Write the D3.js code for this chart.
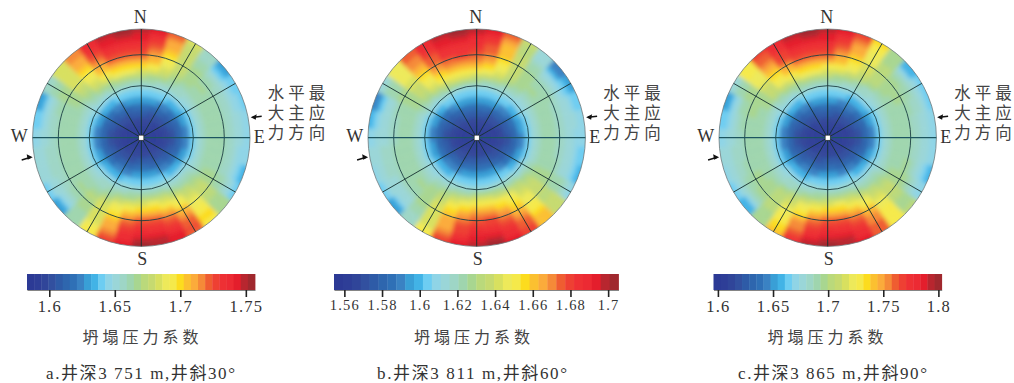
<!DOCTYPE html>
<html>
<head>
<meta charset="utf-8">
<script src="https://cdn.jsdelivr.net/npm/d3@7"></script>
<style>
  html, body { margin: 0; padding: 0; background: #fff; }
  text { font-family: "Liberation Serif", "Noto Sans CJK SC", serif; fill: #333; }
</style>
</head>
<body>
<div id="chart"></div>
<script>
const compass = ["N", "E", "S", "W"];
const stressNote = [["水", "平", "最"], ["大", "主", "应"], ["力", "方", "向"]];
const axisTitle = "坍塌压力系数";
const captions = ["a.井深3 751 m,井斜30°", "b.井深3 811 m,井斜60°", "c.井深3 865 m,井斜90°"];

const domainA = [1.583, 1.757];
const domainB = [1.5545, 1.7055];
const domainC = [1.596, 1.803];
const ticksA = [1.6, 1.65, 1.7, 1.75];
const ticksB = [1.56, 1.58, 1.6, 1.62, 1.64, 1.66, 1.68, 1.7];
const ticksC = [1.6, 1.65, 1.7, 1.75, 1.8];

const inclinationEdges = [0, 4, 8, 12, 16, 20, 24, 28, 32, 37, 42, 47, 52, 57, 62, 67, 72, 77, 82, 86, 90];
const azimuthStep = 10;

// colour bar steps, low to high
const palette = ["#2c3a95", "#2e3e97", "#304599", "#32509f", "#2e5ba7", "#2e66ae", "#2f70b6", "#3a82c3",
  "#399fd6", "#42b3e6", "#6dcdf2", "#8fd4e6", "#9ad6d8", "#9ed6c6", "#9fd5ae", "#a8d690",
  "#bad97b", "#c6da70", "#d8e05f", "#ede95a", "#f5e94a", "#fcdc1e", "#fbc030", "#fbab3b",
  "#f58a38", "#ef5d31", "#ee4033", "#ee3034", "#ec2a33", "#e41e2c", "#b8262f", "#a0282e"];

// each cell: colour bar step.
// rows go from the centre to the rim, columns clockwise from N every 10 degrees
const gridA = [
  [0,0,0,0,0,0,0,0,0,0,0,0,0,0,0,0,0,0,0,0,0,0,0,0,0,0,0,0,0,0,0,0,0,0,0,0],
  [1,1,1,1,1,1,1,1,0,0,0,1,1,1,1,1,1,1,1,1,1,1,1,1,1,1,0,0,0,1,1,1,1,1,1,1],
  [2,2,2,2,2,1,1,1,1,1,1,1,1,2,2,2,2,2,2,2,2,2,2,2,1,1,1,1,1,1,1,1,2,2,2,2],
  [4,4,3,3,3,3,3,2,2,2,2,2,3,3,3,3,4,4,4,4,3,3,3,3,3,2,2,2,2,2,3,3,3,3,4,4],
  [6,6,5,5,5,4,4,4,3,3,3,4,4,4,5,5,5,6,6,6,5,5,5,4,4,4,3,3,3,4,4,4,5,5,5,6],
  [8,8,8,7,7,6,6,5,5,5,5,5,6,6,7,7,8,8,8,8,7,7,7,6,6,5,5,5,5,5,6,6,7,7,8,8],
  [10,10,10,10,9,9,8,8,7,7,7,8,8,9,9,10,10,10,10,10,10,9,9,9,8,8,7,7,7,8,8,9,9,10,10,10],
  [12,12,12,11,11,11,10,10,10,10,10,10,11,11,11,12,12,12,12,12,12,11,11,11,10,10,10,10,10,10,11,11,11,12,12,12],
  [14,14,13,13,13,12,12,12,12,12,12,12,12,13,13,13,14,14,14,14,13,13,13,12,12,12,12,12,12,12,12,13,13,14,14,14],
  [16,15,15,14,13,13,13,13,13,13,13,13,13,14,14,15,16,16,16,15,15,14,13,13,13,13,13,13,13,13,13,14,15,15,16,16],
  [18,18,17,15,14,14,14,14,14,14,14,14,14,15,16,17,18,19,18,18,17,15,14,14,14,14,14,14,14,14,14,15,17,18,19,19],
  [21,20,18,16,15,14,14,14,14,14,14,14,15,16,17,19,20,21,21,20,19,17,15,14,14,14,14,14,14,14,15,16,18,20,21,21],
  [23,22,19,17,15,15,14,14,14,14,14,14,15,17,18,20,22,23,23,22,20,18,16,15,14,14,14,14,14,14,15,17,19,22,23,23],
  [25,23,20,17,15,14,14,14,14,14,14,14,15,17,19,22,24,25,25,24,21,18,15,14,14,14,14,14,14,14,15,18,20,23,25,25],
  [26,24,21,17,15,14,13,13,13,13,13,13,14,16,19,23,25,26,26,25,22,18,15,14,13,13,13,13,13,14,15,18,21,24,26,26],
  [27,25,22,17,14,13,13,13,13,13,13,13,14,16,20,24,26,27,27,26,23,18,15,13,13,13,13,13,13,13,15,18,22,25,27,27],
  [28,26,23,17,14,12,12,12,12,12,12,12,13,15,20,25,27,28,28,27,23,18,14,12,12,13,13,12,12,12,14,18,23,26,28,28],
  [29,27,23,17,13,10,11,11,12,12,11,11,12,15,21,25,28,29,29,28,24,19,14,11,12,12,12,12,11,11,14,18,23,27,29,29],
  [29,28,24,17,13,9,10,11,11,11,11,10,11,15,21,26,29,30,30,28,25,20,14,9,11,12,12,11,10,9,13,18,24,28,29,30],
  [30,29,25,18,13,8,10,10,11,11,11,9,10,15,20,25,29,30,31,29,26,20,14,8,10,12,12,11,10,8,13,18,24,28,30,31]
];
const gridB = [
  [0,0,0,0,0,0,0,0,0,0,0,0,0,0,0,0,0,0,0,0,0,0,0,0,0,0,0,0,0,0,0,0,0,0,0,0],
  [1,1,1,1,1,1,1,1,1,0,0,1,1,1,1,1,1,1,1,1,1,1,1,1,1,1,1,0,0,1,1,1,1,1,1,1],
  [2,2,2,2,2,2,1,1,1,1,1,1,2,2,2,2,2,2,2,2,2,2,2,2,1,1,1,1,1,1,1,2,2,2,2,2],
  [4,4,4,3,3,3,3,2,2,2,2,2,3,3,3,4,4,4,4,4,4,3,3,3,3,2,2,2,2,2,3,3,3,4,4,4],
  [6,6,6,5,5,5,4,4,4,3,3,4,4,4,5,5,6,6,6,6,6,5,5,5,4,4,4,3,3,4,4,4,5,5,6,6],
  [8,8,8,8,7,7,6,6,5,5,5,5,6,6,7,8,8,8,8,8,8,7,7,7,6,6,5,5,5,5,6,6,7,8,8,8],
  [10,10,10,10,10,9,9,8,8,7,7,8,8,9,10,10,10,10,10,10,10,10,9,9,9,8,8,7,7,8,8,9,10,10,10,10],
  [12,12,12,12,11,11,11,10,10,10,10,10,11,11,12,12,12,12,12,12,12,12,11,11,11,10,10,10,10,10,11,11,12,12,12,12],
  [15,14,14,13,13,12,12,12,12,12,12,12,13,13,14,14,15,15,15,14,14,13,13,12,12,12,12,12,12,12,13,13,14,15,15,15],
  [17,17,16,15,14,13,13,13,13,13,13,13,14,15,16,17,17,18,18,17,16,15,14,13,13,13,13,13,13,13,14,15,16,17,18,18],
  [20,19,18,16,15,14,14,14,14,14,14,14,15,16,17,19,20,20,20,19,18,16,15,14,14,14,14,14,14,14,15,16,18,20,20,20],
  [22,21,19,17,15,15,14,14,14,14,14,14,15,17,18,20,21,22,22,21,20,17,15,15,14,14,14,14,14,14,15,17,19,21,22,22],
  [24,23,20,17,15,14,14,14,14,14,14,14,15,17,19,21,23,24,24,23,21,18,15,14,14,14,14,14,14,14,15,17,20,23,24,24],
  [25,24,21,17,15,14,14,13,13,13,13,14,15,17,19,22,24,26,25,24,22,18,15,14,14,14,14,13,13,14,15,18,21,24,25,26],
  [26,25,22,17,14,13,13,13,13,13,13,13,14,16,20,23,25,26,26,25,23,18,15,13,13,13,13,13,13,13,15,18,22,25,27,27],
  [27,25,22,17,14,12,12,12,12,12,12,12,14,16,20,24,26,27,27,26,23,18,14,12,12,13,13,12,12,12,14,19,23,25,27,27],
  [28,26,22,16,13,11,11,12,12,12,12,12,14,17,21,25,27,28,28,26,23,18,14,12,12,13,13,12,12,12,14,19,24,26,28,28],
  [28,27,23,16,12,9,10,11,12,11,11,11,13,17,22,25,28,29,29,27,24,18,13,11,12,12,12,12,11,10,14,19,24,27,29,29],
  [29,28,24,16,12,7,9,10,11,11,10,10,12,17,22,26,28,30,29,28,25,19,13,9,11,12,12,11,10,8,13,19,25,28,29,30],
  [30,29,25,17,12,7,8,10,11,11,10,9,11,17,22,26,29,31,30,29,26,20,13,8,10,11,12,11,9,7,12,19,25,28,30,31]
];
const gridC = [
  [0,0,0,0,0,0,0,0,0,0,0,0,0,0,0,0,0,0,0,0,0,0,0,0,0,0,0,0,0,0,0,0,0,0,0,0],
  [1,1,1,1,1,1,1,1,1,1,0,1,1,1,1,1,1,1,1,1,1,1,1,1,1,1,1,1,0,1,1,1,1,1,1,1],
  [2,2,2,2,2,1,1,1,1,1,1,1,1,2,2,2,2,2,2,2,2,2,2,1,1,1,1,1,1,1,1,1,2,2,2,2],
  [4,4,3,3,3,3,3,2,2,2,2,2,3,3,3,3,4,4,4,4,3,3,3,3,3,2,2,2,2,2,3,3,3,3,4,4],
  [6,5,5,5,5,4,4,4,3,3,3,4,4,4,5,5,5,6,6,5,5,5,5,4,4,4,3,3,3,4,4,4,5,5,5,6],
  [8,8,7,7,7,6,6,5,5,5,5,5,6,6,7,7,7,8,8,8,7,7,7,6,6,5,5,5,5,5,6,6,7,7,8,8],
  [10,10,10,9,9,9,8,8,7,7,7,8,8,9,9,10,10,10,10,10,10,9,9,9,8,8,7,7,7,8,8,9,9,10,10,10],
  [12,12,12,11,11,11,10,10,10,10,10,10,11,11,11,12,12,12,12,12,12,11,11,11,10,10,10,10,10,10,11,11,11,12,12,12],
  [14,14,13,13,13,12,12,12,12,12,12,12,12,13,13,13,14,14,14,14,13,13,13,12,12,12,12,12,12,12,12,13,13,14,14,14],
  [16,15,15,14,13,13,13,13,13,13,13,13,13,14,14,15,16,16,16,15,15,14,13,13,13,13,13,13,13,13,13,14,15,15,16,16],
  [18,18,17,16,15,14,14,14,14,14,14,14,14,15,16,17,18,19,18,18,17,16,15,14,14,14,14,14,14,14,15,16,17,18,19,19],
  [20,20,19,17,16,15,14,14,14,14,14,14,15,16,17,19,20,21,21,20,19,17,16,15,14,14,14,14,14,14,15,17,19,20,21,21],
  [23,22,20,18,16,15,15,14,14,14,14,14,15,17,18,20,22,23,23,22,20,18,16,15,15,14,14,14,14,15,15,17,20,22,23,23],
  [25,23,21,18,16,15,15,14,14,14,14,15,15,17,19,22,24,25,25,24,21,19,16,15,15,14,14,14,14,15,15,18,21,23,25,25],
  [26,24,22,19,16,15,14,14,13,13,13,14,15,16,19,23,25,26,26,25,23,19,16,15,14,14,13,13,14,14,15,19,22,25,26,26],
  [27,25,23,19,16,14,14,13,13,13,13,13,14,16,20,24,26,27,27,26,24,20,16,14,14,13,13,13,13,14,15,19,23,26,27,27],
  [28,26,23,19,15,13,13,13,12,12,12,12,13,15,20,24,27,28,28,27,24,20,15,13,13,13,13,12,12,12,14,19,24,26,28,28],
  [29,27,24,20,15,11,12,12,12,12,12,11,12,15,20,25,28,29,29,28,25,21,15,11,12,12,12,12,11,11,14,20,25,27,29,29],
  [29,28,25,20,15,9,11,11,11,11,11,10,11,15,20,25,28,30,30,29,26,21,15,9,11,12,12,11,10,9,13,20,25,28,29,30],
  [30,29,26,21,15,9,10,10,11,11,11,9,11,16,20,25,29,30,31,30,27,22,15,9,10,11,12,11,10,8,12,20,26,28,30,31]
];

// layout of the panels
const panels = [
  { grid: gridA, domain: domainA, ticks: ticksA, caption: captions[0], cx: 141.3, bar: [27, 255], title: 142.5, capX: 46, capW: 189, tickFont: 16.5 },
  { grid: gridB, domain: domainB, ticks: ticksB, caption: captions[1], cx: 476.7, bar: [334, 618.5], title: 474, capX: 377, capW: 190, tickFont: 14.5 },
  { grid: gridC, domain: domainC, ticks: ticksC, caption: captions[2], cx: 827.7, bar: [713.5, 941.7], title: 827.5, capX: 738, capW: 189, tickFont: 16.5 }
];
const width = 1014, height = 383;
const cy = 137.7, outerR = 108.7;
const barTop = 274, barH = 16;

const svg = d3.select("#chart").append("svg")
  .attr("width", width).attr("height", height)
  .style("display", "block");

const defs = svg.append("defs");
defs.append("filter").attr("id", "soft")
  .attr("x", "-5%").attr("y", "-5%").attr("width", "110%").attr("height", "110%")
  .append("feGaussianBlur").attr("stdDeviation", 2);
defs.append("filter").attr("id", "softLine")
  .attr("filterUnits", "userSpaceOnUse")
  .attr("x", -130).attr("y", -130).attr("width", 260).attr("height", 260)
  .append("feGaussianBlur").attr("stdDeviation", 0.3);
defs.append("clipPath").attr("id", "disk")
  .append("circle").attr("r", outerR);

// inclination to radius, the three rings are not evenly spaced
const radius = d3.scaleLinear().domain([0, 30, 60, 90]).range([0, 52, 83, outerR]);
const azimuth = d3.scaleLinear().domain([0, 360]).range([0, 2 * Math.PI]);
const stepColor = d3.scaleOrdinal().domain(d3.range(palette.length)).range(palette);
const arc = d3.arc();
const lastRing = inclinationEdges.length - 2;

panels.forEach((p) => {
  const g = svg.append("g").attr("transform", "translate(" + p.cx + "," + cy + ")");

  // heat cells, the rim row runs past the clip so the blur keeps a clean edge
  const cells = [];
  p.grid.forEach((row, i) => {
    row.forEach((step, j) => {
      cells.push({ step: step, i: i, j: j });
    });
  });
  g.append("g").attr("clip-path", "url(#disk)")
    .append("g").attr("filter", "url(#soft)")
    .selectAll("path")
    .data(cells)
    .enter()
    .append("path")
    .attr("d", (d) => arc({
      innerRadius: radius(inclinationEdges[d.i]),
      outerRadius: radius(inclinationEdges[d.i + 1]) + (d.i === lastRing ? 6 : 0),
      startAngle: azimuth(d.j * azimuthStep - azimuthStep / 2),
      endAngle: azimuth(d.j * azimuthStep + azimuthStep / 2)
    }))
    .attr("fill", (d) => stepColor(d.step))
    .attr("stroke", (d) => stepColor(d.step))
    .attr("stroke-width", 0.6);

  // rings and spokes
  const lines = g.append("g").attr("filter", "url(#softLine)");
  lines.selectAll(".ring")
    .data([30, 60])
    .enter()
    .append("circle")
    .attr("r", (d) => radius(d))
    .attr("fill", "none")
    .attr("stroke", "#1d4044")
    .attr("stroke-width", 0.9);
  lines.append("circle").attr("r", outerR)
    .attr("fill", "none").attr("stroke", "#6f7a7c").attr("stroke-width", 0.8);

  lines.selectAll(".spoke")
    .data(d3.range(0, 360, 30))
    .enter()
    .append("line")
    .attr("x2", (d) => outerR * Math.sin(azimuth(d)))
    .attr("y2", (d) => -outerR * Math.cos(azimuth(d)))
    .attr("stroke", (d) => (d === 90 || d === 270) ? "#1e5560" : "#16302f")
    .attr("stroke-width", (d) => (d === 90 || d === 270) ? 1.3 : 0.9);

  g.append("rect")
    .attr("x", -2.5).attr("y", -2.5).attr("width", 5).attr("height", 5)
    .attr("fill", "#fff").attr("stroke", "#222").attr("stroke-width", 0.5);

  // compass letters
  const compassPos = { N: [-1, -114.5], E: [118, 5.5], S: [1, 127.5], W: [-122, 4] };
  g.selectAll(".compass")
    .data(compass)
    .enter()
    .append("text")
    .attr("x", (d) => compassPos[d][0])
    .attr("y", (d) => compassPos[d][1])
    .attr("text-anchor", "middle")
    .attr("font-size", 18)
    .text((d) => d);

  // horizontal max stress note
  stressNote.forEach((line, r) => {
    g.selectAll(".note" + r)
      .data(line)
      .enter()
      .append("text")
      .attr("x", (d, c) => 134.7 + c * 20.5)
      .attr("y", -38.5 + r * 19.7)
      .attr("text-anchor", "middle")
      .attr("font-size", 16.5)
      .style("fill", "#444")
      .text((d) => d);
  });

  // stress direction arrows, tip then tail
  [[109.4, -20.4, 120.4, -21.4], [-108.6, 19.6, -119.6, 22.3]].forEach((a) => {
    const dir = a[2] > a[0] ? 1 : -1;
    g.append("line")
      .attr("x1", a[0] + dir * 2).attr("y1", a[1])
      .attr("x2", a[2]).attr("y2", a[3])
      .attr("stroke", "#111").attr("stroke-width", 1.5);
    g.append("path")
      .attr("d", "M" + a[0] + "," + a[1] + "L" + (a[0] + dir * 6) + "," + (a[1] - 3) + "L" + (a[0] + dir * 5) + "," + (a[1] + 2.5) + "Z")
      .attr("fill", "#111");
  });

  // colour bar
  const stepX = d3.scaleBand().domain(d3.range(palette.length)).range(p.bar);
  svg.append("g").selectAll("rect")
    .data(palette)
    .enter()
    .append("rect")
    .attr("x", (d, i) => stepX(i))
    .attr("y", barTop)
    .attr("width", stepX.bandwidth() + 0.4)
    .attr("height", barH)
    .attr("fill", (d) => d);

  const x = d3.scaleLinear().domain(p.domain).range(p.bar);
  const axis = svg.append("g")
    .attr("transform", "translate(0," + (barTop + barH) + ")")
    .call(d3.axisBottom(x).tickValues(p.ticks).tickSize(7).tickSizeOuter(0).tickPadding(3).tickFormat((d) => d));
  axis.select(".domain").attr("stroke", "#666").attr("stroke-width", 0.8);
  axis.selectAll(".tick line").attr("stroke", "#222").attr("stroke-width", 1.6);
  axis.selectAll(".tick text")
    .attr("font-size", p.tickFont)
    .attr("font-family", "Liberation Serif")
    .attr("letter-spacing", 1.2)
    .style("fill", "#333");

  svg.append("text")
    .attr("x", p.title).attr("y", 343)
    .attr("text-anchor", "middle")
    .attr("font-size", 16)
    .attr("letter-spacing", 4)
    .style("fill", "#444")
    .text(axisTitle);

  svg.append("text")
    .attr("x", p.capX).attr("y", 378.5)
    .attr("font-size", 17)
    .attr("textLength", p.capW)
    .text(p.caption);
});
</script>
</body>
</html>
